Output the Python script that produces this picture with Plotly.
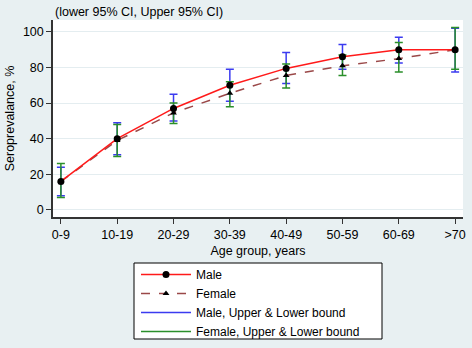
import plotly.graph_objects as go

age_groups = ["0-9", "10-19", "20-29", "30-39", "40-49", "50-59", "60-69", ">70"]
male = [16, 40, 57, 70, 79.5, 86, 90, 90]
male_upper = [24, 49, 65, 79, 88.5, 93, 97, 102]
male_lower = [8, 31, 50, 61, 71, 79, 82.5, 77.5]
female = [16, 39, 54.5, 65.5, 75.5, 81, 85, 90]
female_upper = [26, 48, 60, 72, 82, 87, 94, 102.5]
female_lower = [7, 30, 48.5, 58, 68.5, 75.5, 77.5, 79]
y_ticks = [0, 20, 40, 60, 80, 100]

x = list(range(len(age_groups)))
FONT = "Liberation Sans, Arial, sans-serif"
FS = 12.5
BLUE = "#3b3bf0"
GREEN = "#2a8f2a"
RED = "#ff1a1a"
BROWN = "#9a4848"

def plus(v, c):
    return [a - b for a, b in zip(v, c)]

fig = go.Figure()
fig.add_trace(go.Scatter(
    x=x, y=male, mode="markers", marker=dict(size=0.1, color="rgba(0,0,0,0)"),
    error_y=dict(type="data", symmetric=False,
                 array=plus(male_upper, male), arrayminus=plus(male, male_lower),
                 color=BLUE, thickness=1.5, width=4),
    showlegend=False, hoverinfo="skip"))
fig.add_trace(go.Scatter(
    x=x, y=female, mode="markers", marker=dict(size=0.1, color="rgba(0,0,0,0)"),
    error_y=dict(type="data", symmetric=False,
                 array=plus(female_upper, female), arrayminus=plus(female, female_lower),
                 color=GREEN, thickness=1.5, width=4),
    showlegend=False, hoverinfo="skip"))
fig.add_trace(go.Scatter(
    x=x, y=female, mode="lines+markers", name="Female",
    line=dict(color=BROWN, width=1.5, dash="dash"),
    marker=dict(symbol="triangle-up", size=6, color="black"),
    legendrank=2))
fig.add_trace(go.Scatter(
    x=x, y=male, mode="lines+markers", name="Male",
    line=dict(color=RED, width=1.5),
    marker=dict(symbol="circle", size=7, color="black"),
    legendrank=1))
fig.add_trace(go.Scatter(
    x=[None], y=[None], mode="lines", name="Male, Upper & Lower bound",
    line=dict(color=BLUE, width=1.5), legendrank=3))
fig.add_trace(go.Scatter(
    x=[None], y=[None], mode="lines", name="Female, Upper & Lower bound",
    line=dict(color=GREEN, width=1.5), legendrank=4))

PH = 197.0
PW = 410.0
fig.update_layout(
    width=472, height=348,
    margin=dict(l=53, r=9, t=20, b=131, autoexpand=False),
    paper_bgcolor="#e8f0f2",
    plot_bgcolor="white",
    font=dict(family=FONT, size=FS, color="black"),
    legend=dict(
        x=(136 - 53) / PW, y=(217 - 260) / PH, xanchor="left", yanchor="top",
        bgcolor="rgba(0,0,0,0)", borderwidth=0,
        font=dict(size=12), tracegroupgap=0, itemwidth=50,
    ),
    shapes=[dict(
        type="rect", xref="paper", yref="paper",
        x0=(134 - 53) / PW, x1=(382 - 53) / PW,
        y0=(217 - 263) / PH, y1=(217 - 339) / PH,
        fillcolor="white", line=dict(color="black", width=1), layer="above")],
    annotations=[dict(
        text="(lower 95% CI, Upper 95% CI)", xref="paper", yref="paper",
        x=0.0, y=1.0 + 8 / PH, xanchor="left", yanchor="middle",
        showarrow=False, font=dict(size=FS))],
)
fig.update_xaxes(
    tickvals=x, ticktext=age_groups, range=[-0.14, 7.14],
    showline=True, linecolor="#333", linewidth=1.5,
    ticks="outside", ticklen=5, tickcolor="#333",
    tickfont=dict(size=FS),
    showgrid=False, zeroline=False, automargin=False,
    title=dict(text="Age group, years", standoff=5, font=dict(size=FS)),
)
fig.update_yaxes(
    tickvals=y_ticks, range=[-4, 106.7],
    showline=True, linecolor="#333", linewidth=1.5,
    ticks="outside", ticklen=5, tickcolor="#333",
    tickfont=dict(size=FS),
    showgrid=True, gridcolor="#e4edf0", gridwidth=1, zeroline=False, automargin=False,
    title=dict(text="Seroprevalance, %", standoff=6, font=dict(size=FS)),
)
fig.write_html(
    "out.html",
    config={"displayModeBar": False},
    post_script="document.body.style.margin='0';document.body.style.padding='0';",
)
